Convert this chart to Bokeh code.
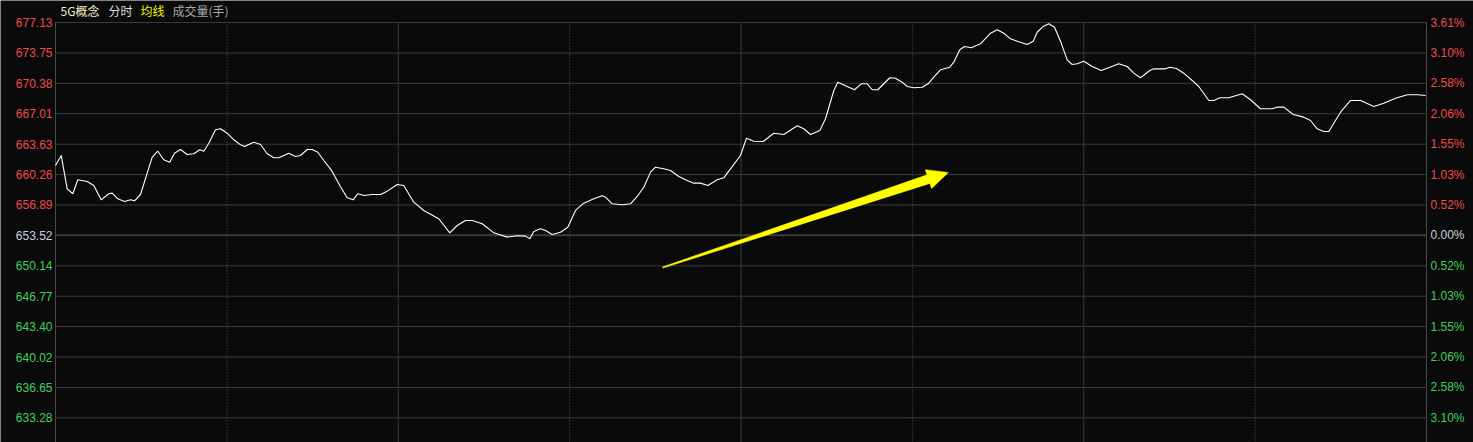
from bokeh.plotting import figure
from bokeh.models import Range1d
from bokeh.embed import file_html
from bokeh.resources import INLINE
from bokeh.core.properties import value
import math

# ---------------- data ----------------
prev_close = 653.52
price_ticks = [677.13, 673.75, 670.38, 667.01, 663.63, 660.26, 656.89,
               653.52, 650.14, 646.77, 643.40, 640.02, 636.65, 633.28]
pct_labels = ["3.61%", "3.10%", "2.58%", "2.06%", "1.55%", "1.03%", "0.52%",
              "0.00%", "0.52%", "1.03%", "1.55%", "2.06%", "2.58%", "3.10%"]
solid_time_ticks = [60, 120, 180]
dotted_time_ticks = [30, 90, 150, 210]

minutes = [
    0, 1.0, 2.05, 3.03, 3.9, 5.55, 6.7, 8.0, 9.33, 9.93,
    10.9, 12.08, 13.13, 13.83, 14.88, 16.93, 17.9, 18.96, 20.0, 20.83,
    21.88, 23.05, 24.2, 25.26, 25.96, 26.84, 28.0, 28.88, 30.06, 31.21,
    32.39, 33.09, 34.71, 35.89, 37.06, 38.21, 39.09, 40.84, 42.01, 42.89,
    44.06, 44.94, 45.92, 46.97, 48.26, 49.89, 51.06, 52.11, 52.92, 53.97,
    55.44, 56.89, 58.07, 59.82, 60.97, 62.72, 64.47, 67.1, 69.02, 70.32,
    71.77, 72.94, 74.7, 76.73, 79.07, 80.82, 82.28, 83.03, 83.73, 84.9,
    85.78, 86.95, 88.4, 89.68, 91.03, 92.48, 94.23, 95.7, 96.28, 97.45,
    99.2, 100.66, 101.83, 102.98, 104.16, 105.03, 106.49, 107.66, 109.11, 110.58,
    111.74, 112.91, 114.19, 115.83, 116.99, 118.16, 119.91, 120.96, 122.24, 123.88,
    125.74, 127.49, 129.84, 130.99, 132.17, 133.79, 134.79, 136.25, 136.95, 138.59,
    139.87, 141.04, 142.09, 142.97, 143.95, 146.05, 147.05, 148.2, 149.1, 150.25,
    151.72, 152.88, 153.75, 154.92, 156.55, 157.25, 158.3, 159.12, 160.3, 161.93,
    163.68, 164.85, 166.01, 167.18, 168.35, 170.1, 171.15, 171.85, 172.9, 173.88,
    174.88, 175.93, 177.1, 177.98, 178.85, 180.0, 181.48, 183.05, 184.56, 186.13,
    187.6, 188.76, 189.93, 191.56, 192.26, 194.31, 195.06, 196.24, 197.51, 198.98,
    200.14, 201.89, 202.77, 203.82, 205.39, 207.74, 209.19, 210.94, 212.99, 213.87,
    215.02, 216.67, 218.52, 219.69, 220.87, 222.0, 222.9, 224.95, 226.7, 228.45,
    230.78, 232.53, 234.58, 236.63, 238.38, 239.84,
]
prices = [
    661.27, 662.38, 658.68, 658.13, 659.68, 659.49, 659.05, 657.46, 658.13, 658.20,
    657.57, 657.28, 657.46, 657.35, 658.05, 662.19, 662.85, 661.90, 661.63, 662.63,
    663.04, 662.49, 662.57, 663.01, 662.85, 663.74, 665.23, 665.34, 664.85, 664.12,
    663.56, 663.38, 663.85, 663.60, 662.57, 662.12, 662.12, 662.63, 662.27, 662.38,
    663.04, 663.04, 662.74, 661.82, 660.79, 658.91, 657.69, 657.46, 658.13, 657.94,
    658.05, 658.05, 658.42, 659.16, 659.05, 657.20, 656.28, 655.36, 653.80, 654.61,
    655.17, 655.17, 654.80, 653.80, 653.32, 653.47, 653.43, 653.14, 653.95, 654.25,
    654.06, 653.62, 653.87, 654.42, 656.28, 657.09, 657.57, 657.91, 657.75, 657.02,
    656.91, 657.02, 657.83, 658.86, 660.53, 661.08, 660.90, 660.71, 660.05, 659.60,
    659.31, 659.31, 659.05, 659.68, 659.90, 660.90, 662.38, 664.30, 663.96, 663.93,
    664.85, 664.71, 665.67, 665.34, 664.71, 665.15, 666.45, 669.59, 670.51, 670.03,
    669.67, 670.33, 670.33, 669.67, 669.67, 671.00, 670.95, 670.51, 670.03, 669.89,
    669.95, 670.40, 671.06, 671.88, 672.17, 672.73, 674.10, 674.47, 674.32, 674.77,
    675.94, 676.32, 675.94, 675.32, 675.06, 674.69, 675.06, 676.05, 676.69, 676.99,
    676.61, 675.06, 672.99, 672.47, 672.55, 672.84, 672.25, 671.81, 672.17, 672.55,
    672.25, 671.51, 671.00, 671.81, 671.99, 671.99, 672.17, 672.03, 671.51, 670.70,
    670.03, 668.48, 668.48, 668.78, 668.78, 669.22, 668.56, 667.56, 667.56, 667.74,
    667.74, 666.93, 666.63, 666.26, 665.34, 665.04, 665.04, 667.18, 668.48, 668.48,
    667.81, 668.18, 668.73, 669.11, 669.11, 669.03,
]

arrow_tail = (106.3, 649.95)   # (minute, price)
arrow_tip = (156.3, 660.49)

title_parts = ["5G概念", "分时", "均线", "成交量(手)"]
title_colors = ["#f4f0c8", "#dcdcdc", "#f5f500", "#a8a8a8"]

# ---------------- layout (pixels) ----------------
BG = "#0a0a0a"
GRID = "#3a3a3a"
BORDER = "#4a4a4a"
DOT = "#555555"
RED = "#f04b4b"
GREEN = "#3ed25a"
NEUTRAL = "#c8d0dc"

W, H = 1473, 442
plot_left, plot_w, plot_top, plot_h = 55, 1371, 22, 420
t0, t1 = 0, 240
y_top, y_bot = 677.13, 630.54

ppm = plot_w / (t1 - t0)          # pixels per minute
ppp = plot_h / (y_top - y_bot)    # pixels per price unit
xr = Range1d(t0 - plot_left / ppm, t1 + (W - plot_left - plot_w) / ppm)
yr = Range1d(y_top - (H - plot_top) / ppp, y_top + plot_top / ppp)

p = figure(width=W, height=H, x_range=xr, y_range=yr,
           output_backend="svg", toolbar_location=None,
           min_border_left=0, min_border_right=0, min_border_top=0, min_border_bottom=0,
           background_fill_color=BG, border_fill_color=BG, outline_line_color=None)
p.xaxis.visible = False
p.yaxis.visible = False
p.xgrid.visible = False
p.ygrid.visible = False

# horizontal grid lines
p.segment(x0=t0, x1=t1, y0=price_ticks, y1=price_ticks, line_color=GRID, line_width=1)
p.segment(x0=[t0], x1=[t1], y0=[prev_close], y1=[prev_close], line_color=GRID, line_width=2)
# vertical grid lines
p.segment(x0=solid_time_ticks, x1=solid_time_ticks, y0=y_bot, y1=y_top,
          line_color=GRID, line_width=1)
p.segment(x0=dotted_time_ticks, x1=dotted_time_ticks, y0=y_bot, y1=y_top,
          line_color=DOT, line_width=1, line_dash="1 2")
p.segment(x0=[t0, t1], x1=[t0, t1], y0=y_bot, y1=y_top, line_color=BORDER, line_width=1)

# price line
p.line(minutes, prices, line_color="white", line_width=1.1)

# axis labels
def col(v):
    if v > prev_close + 1e-9:
        return RED
    if v < prev_close - 1e-9:
        return GREEN
    return NEUTRAL

colors = [col(v) for v in price_ticks]
left_txt = [f"{v:.2f}" for v in price_ticks]
p.text(x=t0, y=price_ticks, text=left_txt, text_color=colors, x_offset=-3,
       text_align="right", text_baseline="middle",
       text_font=value("Liberation Sans"), text_font_size="12px")
p.text(x=t1, y=price_ticks, text=pct_labels, text_color=colors, x_offset=4,
       text_align="left", text_baseline="middle",
       text_font=value("Liberation Sans"), text_font_size="12px")

# title pieces
title_y = y_top + 12 / ppp
title_dx = [5, 53, 85, 117]
p.text(x=t0, y=title_y, text=title_parts, text_color=title_colors, x_offset=title_dx,
       text_align="left", text_baseline="middle",
       text_font=value("Noto Sans CJK SC"), text_font_size="12px")

# arrow annotation (tapered shaft + head), built in pixel space
ax0, ay0 = arrow_tail[0] * ppm, arrow_tail[1] * ppp
ax1, ay1 = arrow_tip[0] * ppm, arrow_tip[1] * ppp
dx, dy = ax1 - ax0, ay1 - ay0
L = math.hypot(dx, dy)
ux, uy = dx / L, dy / L
nx, ny = -uy, ux
head_len, head_half, tail_half, shaft_half = 21.0, 10.0, 0.6, 4.5
bx, by = ax1 - ux * head_len, ay1 - uy * head_len
pts = [
    (ax0 + nx * tail_half, ay0 + ny * tail_half),
    (bx + nx * shaft_half, by + ny * shaft_half),
    (bx + nx * head_half, by + ny * head_half),
    (ax1, ay1),
    (bx - nx * head_half, by - ny * head_half),
    (bx - nx * shaft_half, by - ny * shaft_half),
    (ax0 - nx * tail_half, ay0 - ny * tail_half),
]
p.patch([q[0] / ppm for q in pts], [q[1] / ppp for q in pts],
        fill_color="#ffff00", line_color="#ffff00", line_width=0.5)

open("out.html", "w").write(file_html(p, INLINE))
